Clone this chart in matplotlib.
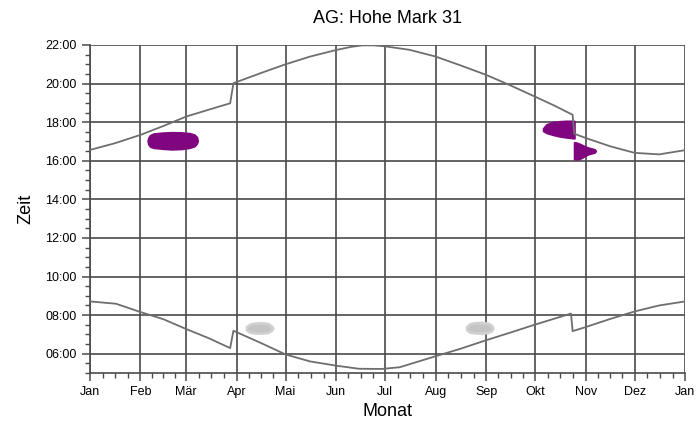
import matplotlib.pyplot as plt
import numpy as np

plt.rcParams['font.family'] = ['Liberation Sans', 'DejaVu Sans']

# month starts (day of year) and labels
month_days = [0, 31, 59, 90, 120, 151, 181, 212, 243, 273, 304, 334, 365]
month_labels = ['Jan', 'Feb', 'Mär', 'Apr', 'Mai', 'Jun', 'Jul', 'Aug',
                'Sep', 'Okt', 'Nov', 'Dez', 'Jan']

# sunset (day of year, hours)
sunset_day = [0, 15, 31, 45, 59, 73, 86, 88, 105, 120, 135, 151, 160, 167, 174, 181,
              196, 212, 227, 243, 258, 273, 285, 296, 297, 304, 319, 334, 349, 365]
sunset_h = [16.56, 16.90, 17.34, 17.80, 18.29, 18.65, 18.98, 20.02, 20.55, 21.00,
            21.40, 21.74, 21.90, 21.98, 21.98, 21.93, 21.75, 21.40, 20.95, 20.45,
            19.90, 19.32, 18.85, 18.38, 17.40, 17.18, 16.75, 16.41, 16.33, 16.55]

# sunrise (day of year, hours)
sunrise_day = [0, 16, 31, 45, 59, 73, 86, 88, 105, 120, 135, 151, 165, 179,
               190, 212, 227, 243, 258, 273, 295, 296, 304, 319, 334, 349, 365]
sunrise_h = [8.71, 8.59, 8.16, 7.79, 7.28, 6.80, 6.29, 7.19, 6.55, 5.96, 5.60,
             5.38, 5.22, 5.21, 5.30, 5.87, 6.25, 6.70, 7.10, 7.51, 8.08, 7.17,
             7.38, 7.80, 8.19, 8.50, 8.71]

# shadow periods (purple): day, start, end
sh1_day = [35.5, 36, 37, 39, 45, 50, 56, 61, 64, 65.5, 66]
sh1_top = [17.03, 17.20, 17.32, 17.40, 17.45, 17.47, 17.46, 17.42, 17.35, 17.22, 17.05]
sh1_bot = [17.03, 16.85, 16.74, 16.68, 16.63, 16.60, 16.62, 16.68, 16.76, 16.90, 17.05]

sh2_day = [278, 280, 284, 288, 292, 296, 297]
sh2_top = [17.68, 17.88, 18.00, 18.04, 18.06, 18.06, 18.05]
sh2_bot = [17.55, 17.45, 17.35, 17.27, 17.22, 17.18, 17.17]

sh3_day = [297, 298, 300, 302, 304, 306, 308, 309.5, 310]
sh3_top = [16.95, 16.94, 16.88, 16.80, 16.72, 16.66, 16.62, 16.58, 16.52]
sh3_bot = [16.10, 16.08, 16.10, 16.18, 16.28, 16.36, 16.40, 16.44, 16.50]

# grey periods
gr1_day = [96, 98, 101, 105, 109, 111, 112]
gr1_top = [7.40, 7.52, 7.58, 7.60, 7.56, 7.45, 7.35]
gr1_bot = [7.25, 7.12, 7.08, 7.07, 7.10, 7.20, 7.30]

gr2_day = [231, 233, 236, 240, 244, 246, 247]
gr2_top = [7.40, 7.55, 7.60, 7.62, 7.58, 7.48, 7.36]
gr2_bot = [7.25, 7.12, 7.08, 7.07, 7.10, 7.18, 7.30]

fig = plt.figure(figsize=(6.97, 4.28), dpi=100)
ax = fig.add_axes([0.129, 0.1285, 0.854, 0.7664])

gridc = '#4a4a4a'
linec = '#6e6e6e'

for d, t, b in [(sh1_day, sh1_top, sh1_bot), (sh2_day, sh2_top, sh2_bot),
                (sh3_day, sh3_top, sh3_bot)]:
    ax.fill_between(d, b, t, color='#7f067f', edgecolor='#7f067f', lw=1.5, zorder=3)
for d, t, b in [(gr1_day, gr1_top, gr1_bot), (gr2_day, gr2_top, gr2_bot)]:
    ax.fill_between(d, b, t, color='#c4c4c4', edgecolor='#d0d0d0', lw=2, zorder=3)

ax.plot(sunset_day, sunset_h, color=linec, lw=1.3, zorder=4)
ax.plot(sunrise_day, sunrise_h, color=linec, lw=1.3, zorder=4)

ax.set_xlim(0, 365)
ax.set_ylim(5, 22)
ax.set_xticks(month_days, month_labels, fontsize=9)
minor_x = []
for i in range(12):
    minor_x += list(np.linspace(month_days[i], month_days[i + 1], 5)[1:-1])
ax.set_xticks(minor_x, minor=True)
yt = np.arange(6, 23, 2)
ax.set_yticks(yt, ['%02d:00' % h for h in yt], fontsize=9)
ax.set_yticks(np.arange(5, 22.01, 0.5), minor=True)

ax.grid(True, which='major', color=gridc, lw=1.2, zorder=1)
ax.set_axisbelow(True)
for s in ['top', 'right']:
    ax.spines[s].set_visible(False)
for s in ['left', 'bottom']:
    ax.spines[s].set_color(gridc)
    ax.spines[s].set_linewidth(1.2)
ax.tick_params(which='major', direction='out', length=6, color=gridc, width=1.1)
ax.tick_params(which='minor', direction='out', length=3.5, color=gridc, width=1)
ax.tick_params(axis='x', pad=3)

ax.set_title('AG: Hohe Mark 31', fontsize=13, pad=16)
ax.set_xlabel('Monat', fontsize=13, labelpad=4)
ax.set_ylabel('Zeit', fontsize=13, labelpad=8)

plt.savefig('out.png', dpi=100)
